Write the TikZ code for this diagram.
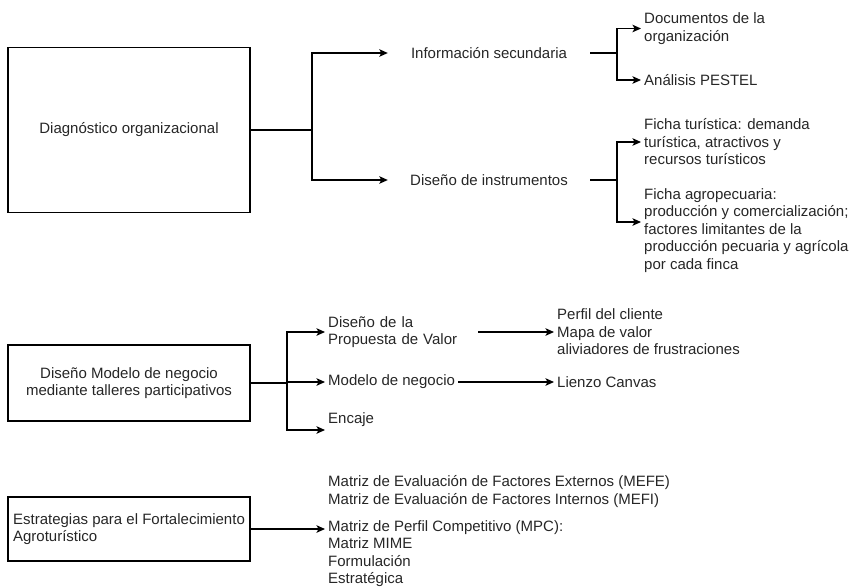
\documentclass[tikz,border=0pt]{standalone}
\usepackage{fontspec}
\setmainfont{Liberation Sans}
\usepackage{xcolor}
\usepackage{tikz}
\usetikzlibrary{arrows.meta, positioning}

\begin{document}
\begin{tikzpicture}[x=1pt, y=-1pt,
    font=\fontsize{15}{17.5}\selectfont,
    box/.style={draw, line width=1.3pt, text=black!85, inner sep=0pt},
    mid/.style={minimum width=202, inner sep=0pt, text=black!85},
    leaf/.style={anchor=west, align=left, inner xsep=3pt, inner ysep=0pt, text=black!85},
    arr/.style={line width=1.3pt, -{Stealth[length=8.5pt, width=7.5pt, inset=2pt]}},
    ln/.style={line width=1.3pt}]
      \useasboundingbox (0,0) rectangle (856,587);

      % Diagnostico
      \node[box, minimum width=242, minimum height=165] (diag) at (129,130) {Diagnóstico organizacional};
      \node[mid] (info) at (489,53) {Información secundaria};
      \node[mid] (instr) at (489,180) {Diseño de instrumentos};
      \coordinate (j1) at (312,130);
      \draw[ln] (diag.east) -- (j1);
      \draw[arr] (j1) |- (info.west);
      \draw[arr] (j1) |- (instr.west);

      \node[leaf] (docs) at (641,28.5) {Documentos de la\\organización};
      \node[leaf] (pestel) at (641,80) {Análisis PESTEL};
      \coordinate (j2) at (617,53);
      \draw[ln] (info.east) -- (j2);
      \draw[arr] (j2) |- (docs.west);
      \draw[arr] (j2) |- (pestel.west);

      \node[leaf] (turis) at (641,142) {Ficha turística: demanda\\turística, atractivos y\\recursos turísticos};
      \node[leaf] (agro) at (641,230.5) {Ficha agropecuaria:\\producción y comercialización;\\factores limitantes de la\\producción pecuaria y agrícola\\por cada finca};
      \coordinate (j3) at (617,180);
      \draw[ln] (instr.east) -- (j3);
      \draw[arr] (j3) |- (turis.west);
      \draw[arr] (j3) |- ([yshift=8.5pt]agro.west);

      % Modelo de negocio
      \node[box, minimum width=242, minimum height=76, align=center] (negocio) at (129,383) {Diseño Modelo de negocio\\mediante talleres participativos};
      \node[leaf, text width=147] (valor) at (325,332) {Diseño de la\\Propuesta de Valor};
      \node[leaf] (modelo) at (325,382) {Modelo de negocio};
      \node[leaf] (encaje) at (325,420) {Encaje};
      \coordinate (j4) at (287,383);
      \draw[ln] (negocio.east) -- (j4);
      \draw[arr] (j4) |- (valor.west);
      \draw[arr] (j4) |- (modelo.west);
      \draw[arr] (j4) |- ([yshift=-10pt]encaje.west);

      \node[leaf] (perfil) at (554,332) {Perfil del cliente\\Mapa de valor\\aliviadores de frustraciones};
      \node[leaf] (lienzo) at (554,382) {Lienzo Canvas};
      \draw[arr] (valor.east) -- (perfil.west);
      \draw[arr] (modelo.east) -- (lienzo.west);

      % Estrategias
      \node[box, minimum width=242, minimum height=64, align=left] (estr) at (129,529) {Estrategias para el Fortalecimiento\\Agroturístico};
      \node[leaf] (mefe) at (325,491.5) {Matriz de Evaluación de Factores Externos (MEFE)\\Matriz de Evaluación de Factores Internos (MEFI)};
      \node[leaf] (mpc) at (325,553.5) {Matriz de Perfil Competitivo (MPC):\\Matriz MIME\\Formulación\\Estratégica};
      \draw[arr] (estr.east) -- ([yshift=24.5pt]mpc.west);
    \end{tikzpicture}
\end{document}
